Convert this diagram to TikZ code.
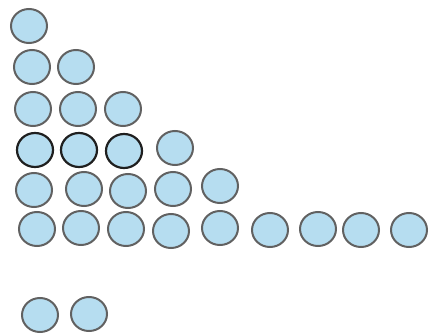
\documentclass[tikz,border=0pt]{standalone}
\usetikzlibrary{shapes.geometric}
\begin{document}
\begin{tikzpicture}[x=1pt,y=-1pt,
  bead/.style={ellipse,minimum width=36pt,minimum height=34pt,inner sep=0pt,draw=black!62,line width=2pt,fill=beadblue},
  darkbead/.style={bead,draw=black!88,line width=2.2pt}]
\definecolor{beadblue}{HTML}{B6DDF0}
\useasboundingbox (0,0) rectangle (430,334);
\node[bead] (r1a) at (29,26) {};
\node[bead] (r2a) at (32,67) {};
\node[bead] (r2b) at (76,67) {};
\node[bead] (r3a) at (33,109) {};
\node[bead] (r3b) at (78,109) {};
\node[bead] (r3c) at (123,109) {};
\node[darkbead] (r4a) at (35,150) {};
\node[darkbead] (r4b) at (79,150) {};
\node[darkbead] (r4c) at (124,151) {};
\node[bead] (r4d) at (175,148) {};
\node[bead] (r5a) at (34,190) {};
\node[bead] (r5b) at (84,189) {};
\node[bead] (r5c) at (128,191) {};
\node[bead] (r5d) at (173,189) {};
\node[bead] (r5e) at (220,186) {};
\node[bead] (r6a) at (37,229) {};
\node[bead] (r6b) at (81,228) {};
\node[bead] (r6c) at (126,229) {};
\node[bead] (r6d) at (171,231) {};
\node[bead] (r6e) at (220,228) {};
\node[bead] (r6f) at (270,230) {};
\node[bead] (r6g) at (318,229) {};
\node[bead] (r6h) at (361,230) {};
\node[bead] (r6i) at (409,230) {};
\node[bead] (b1) at (40,315) {};
\node[bead] (b2) at (89,314) {};
\end{tikzpicture}
\end{document}
